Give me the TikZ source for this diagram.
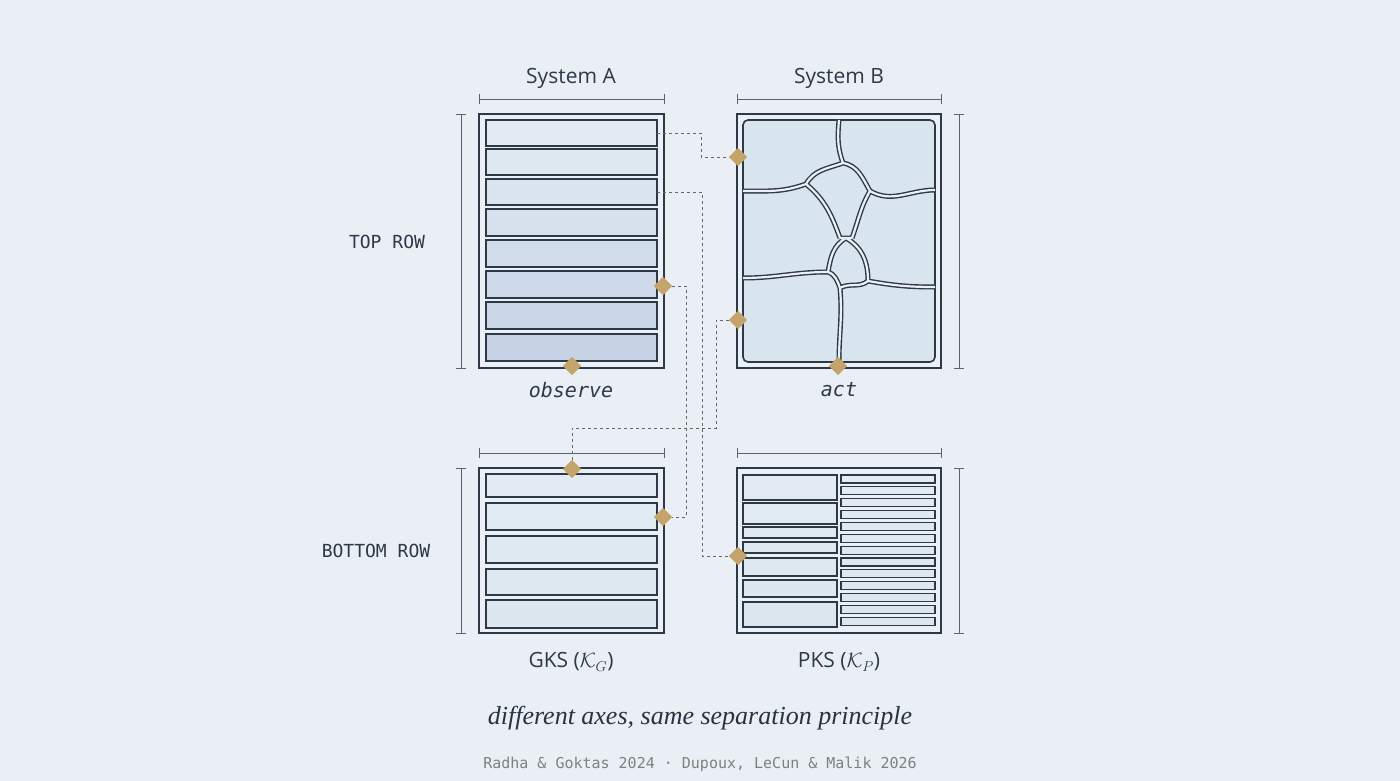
\documentclass[tikz,border=0pt]{standalone}
\usepackage{fontspec}
\usepackage{amsmath}
\usetikzlibrary{shapes.geometric}
\setmainfont{DejaVu Serif}
\setsansfont{Open Sans}
\setmonofont{DejaVu Sans Mono}
\newfontfamily\capfont{Liberation Serif}
\definecolor{bg}{HTML}{E9EFF5}
\definecolor{ink}{HTML}{2E3947}
\definecolor{gold}{HTML}{C4A46A}
\definecolor{cellc}{HTML}{D8E4EE}
\definecolor{barA}{HTML}{E2EBF3}
\definecolor{barB}{HTML}{C3D1E3}
\definecolor{gap}{HTML}{EAF0F5}
\definecolor{brk}{HTML}{5A6470}
\begin{document}
\begin{tikzpicture}[x=1pt,y=-1pt,
  frame/.style={draw=ink,line width=2pt,fill=gap},
  bar/.style={draw=ink,line width=1.6pt},
  dia/.style={fill=gold,shape=diamond,minimum size=18pt,inner sep=0pt},
  conn/.style={draw=gray!80!black,dashed,line width=0.9pt},
  brack/.style={draw=brk,line width=0.9pt},
  lab/.style={font=\sffamily\fontsize{21}{24}\selectfont,text=ink}]
\fill[bg] (0,0) rectangle (1400,781);
\useasboundingbox (0,0) rectangle (1400,781);
% brackets
\foreach \a/\b in {479/664,737/941}{
  \draw[brack] (\a,99)--(\b,99) (\a,94)--(\a,104) (\b,94)--(\b,104);
  \draw[brack] (\a,453)--(\b,453) (\a,448)--(\a,458) (\b,448)--(\b,458);}
\foreach \x in {461,959}{
  \draw[brack] (\x,114)--(\x,368) (\x-5,114)--(\x+5,114) (\x-5,368)--(\x+5,368);
  \draw[brack] (\x,468)--(\x,633) (\x-5,468)--(\x+5,468) (\x-5,633)--(\x+5,633);}
% System A
\node[frame,minimum width=185pt,minimum height=254pt,inner sep=0pt] (boxA) at (571.5,241) {};
\foreach \t/\bb [count=\i] in {120/146,149/175,179/205,209/236,240/267,271/298,302/329,334/361}{
  \pgfmathsetmacro\p{100-(\i-1)*13}
  \path[bar,fill=barA!\p!barB] (486,\t) rectangle (657,\bb);}
% System B
\node[frame,minimum width=204pt,minimum height=254pt,inner sep=0pt] (boxB) at (839,241) {};
\fill[cellc,rounded corners=5pt] (743,120) rectangle (935,362);
\def\net{
  (839,120) to[out=-95,in=110] (843,163)
  (843,163) to[out=-10,in=120] (870,191)
  (843,163) to[out=-160,in=60] (806,184)
  (806,184) to[out=-160,in=0] (743,191)
  (870,191) to[out=-30,in=180] (935,190)
  (806,184) to[out=-40,in=110] (840,238)
  (870,191) to[out=-120,in=70] (852,238)
  (840,238) -- (852,238)
  (846,238) to[out=-150,in=80] (828,272)
  (846,238) to[out=-30,in=90] (868,281)
  (828,272) to[out=180,in=0] (743,278)
  (828,272) to[out=-20,in=110] (840,288)
  (868,281) to[out=-140,in=30] (840,288)
  (868,281) to[out=-10,in=180] (935,287)
  (840,288) to[out=-85,in=90] (839,362)}
\draw[ink,line width=5pt] \net;
\draw[ink,line width=1.6pt,rounded corners=5pt] (743,120) rectangle (935,362);
\draw[gap,line width=2.2pt] \net;
% GKS
\node[frame,minimum width=185pt,minimum height=165pt,inner sep=0pt] (boxG) at (571.5,550.5) {};
\foreach \t/\bb [count=\i] in {474/497,503/530,536/563,569/595,600/628}{
  \pgfmathsetmacro\p{100-(\i-1)*15}
  \path[bar,fill=barA!\p!cellc] (486,\t) rectangle (657,\bb);}
% PKS
\node[frame,minimum width=204pt,minimum height=165pt,inner sep=0pt] (boxP) at (839,550.5) {};
\foreach \t/\bb [count=\i] in {475/500,503/524,527/538,542/553,558/576,580/597,602/627}{
  \pgfmathsetmacro\p{100-(\i-1)*12}
  \path[bar,line width=1.3pt,fill=barA!\p!cellc] (743,\t) rectangle (837,\bb);}
\foreach \i in {0,...,12}{
  \pgfmathsetmacro\t{475+\i*11.85}
  \pgfmathsetmacro\p{100-\i*6}
  \path[bar,line width=1.2pt,fill=barA!\p!cellc] (841,\t) rectangle (935,\t+8);}
% connector anchor coordinates
\coordinate (c1) at (657,133);
\coordinate (c3) at (657,192);
% diamonds
\node[dia] (d1) at (572,366) {};
\node[dia] (d2) at (663,286) {};
\node[dia] (d3) at (738,157) {};
\node[dia] (d4) at (738,320) {};
\node[dia] (d5) at (838,366) {};
\node[dia] (d6) at (572,469) {};
\node[dia] (d7) at (663,517) {};
\node[dia] (d8) at (738,556) {};
% connectors
\draw[conn] (c1) -- (701,133) -- (701,157) -- (d3);
\draw[conn] (c3) -- (702,192) -- (702,556) -- (d8);
\draw[conn] (d2) -- (686,286) -- (686,517) -- (d7);
\draw[conn] (d4) -- (716,320) -- (716,428) -- (572,428) -- (d6);
\foreach \n in {d1,d2,d3,d4,d5,d6,d7,d8}{\node[dia] at (\n) {};}
% texts
\node[lab] (tA) at (571,78) {System A};
\node[lab] (tB) at (839,78) {System B};
\node[font=\ttfamily\fontsize{18}{20}\selectfont,text=ink] (tr) at (387,242) {TOP ROW};
\node[font=\ttfamily\fontsize{18}{20}\selectfont,text=ink] (br) at (376,551) {BOTTOM ROW};
\node[font=\ttfamily\itshape\fontsize{20}{22}\selectfont,text=ink] (ob) at (571,390) {observe};
\node[font=\ttfamily\itshape\fontsize{20}{22}\selectfont,text=ink] (ac) at (839,390) {act};
\node[lab] (g) at (571,662) {GKS ($\mathcal{K}_G$)};
\node[lab] (p) at (839,662) {PKS ($\mathcal{K}_P$)};
\node[font=\capfont\itshape\fontsize{26}{28}\selectfont,text=ink!90!black] (cap) at (700,718) {different axes, same separation principle};
\node[font=\ttfamily\fontsize{15}{17}\selectfont,text=gray] (cit) at (700,764) {Radha \& Goktas 2024 · Dupoux, LeCun \& Malik 2026};
\end{tikzpicture}
\end{document}
